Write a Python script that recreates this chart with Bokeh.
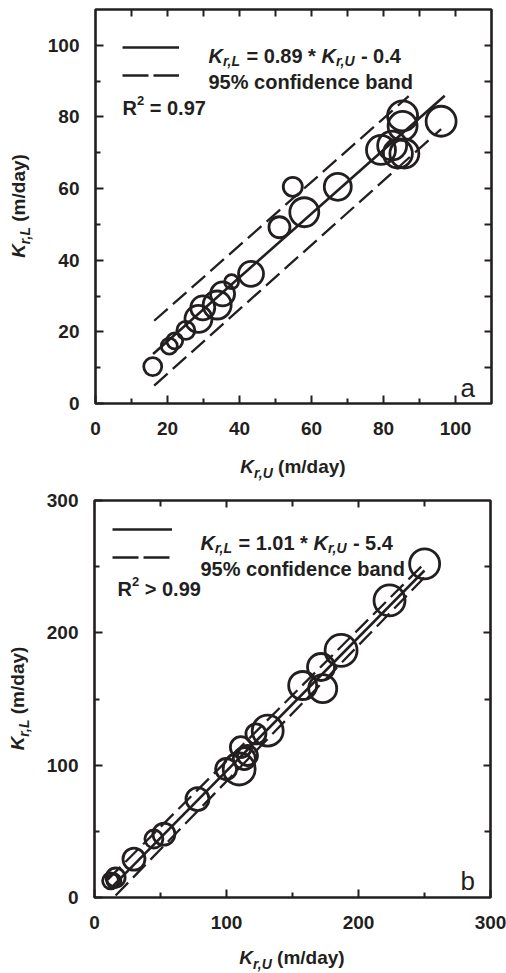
import numpy as np
from bokeh.plotting import figure
from bokeh.models import FixedTicker, LinearAxis, Label, Legend, LegendItem, Range1d, Div
from bokeh.layouts import column, row
from bokeh.embed import file_html
from bokeh.resources import INLINE
from bokeh.core.properties import value

# ---------------- data: panel a ----------------
a_ku = [15.9, 20.5, 22.0, 25.1, 28.6, 29.8, 33.8, 35.3, 37.8, 43.2, 51.1,
        54.8, 58.0, 67.3, 79.3, 82.4, 84.0, 85.8, 85.3, 85.3, 96.0]
a_kl = [10.3, 16.0, 17.5, 20.4, 23.6, 26.7, 27.5, 30.6, 34.0, 36.2, 49.2,
        60.5, 53.4, 60.5, 70.8, 72.0, 69.8, 69.8, 77.5, 80.3, 78.8]
a_size = [18, 16, 16, 18, 27, 24, 28, 24, 14, 25, 21,
          19, 29, 27, 29, 29, 29, 29, 29, 30, 30]
a_slope, a_intercept = 0.89, -0.4
a_fit_x = [16.0, 97.0]
a_upper_x = [16.3, 87.0]
a_upper_y = [23.1, 85.8]
a_lower_x = [16.3, 96.0]
a_lower_y = [5.0, 76.6]
a_ticks = [0, 20, 40, 60, 80, 100]
a_minor = [10, 30, 50, 70, 90]
a_side_ticks = [10, 20, 30, 40, 50, 60, 70, 80, 90, 100]
a_eq = ("0.89", "0.4")
a_r2 = "= 0.97"

# ---------------- data: panel b ----------------
b_ku = [12.2, 14.7, 16.0, 29.9, 45.0, 52.6, 78.0, 99.7, 109.6, 113.5, 110.9,
        115.9, 122.3, 131.2, 157.7, 172.9, 171.6, 186.8, 223.5, 250.1]
b_kl = [12.6, 12.6, 15.1, 29.0, 44.2, 47.9, 74.4, 97.1, 97.1, 105.0, 113.6,
        107.3, 123.6, 126.1, 160.2, 157.8, 174.2, 186.7, 224.5, 252.1]
b_size = [16, 14, 19, 22, 18, 22, 23, 21, 32, 22, 21,
          20, 20, 31, 28, 28, 27, 32, 31, 30]
b_slope, b_intercept = 1.01, -5.4
b_fit_x = [12.0, 250.0]
b_upper_x = [10.0, 248.0]
b_upper_y = [13.5, 250.5]
b_lower_x = [16.0, 252.0]
b_lower_y = [1.5, 244.0]
b_ticks = [0, 100, 200, 300]
b_minor = [50, 150, 250]
b_side_ticks = [100, 200]
b_eq = ("1.01", "5.4")
b_r2 = "> 0.99"

INK = "#231f20"
FONT = "Liberation Sans"

# Arial/Liberation Sans Bold advance widths (per 1000 em)
W = {' ': 278, '(': 333, ')': 333, '*': 389, ',': 278, '-': 333, '.': 278,
     '/': 278, '=': 584, '>': 584, '%': 889, 'K': 722, 'L': 611, 'R': 722,
     'U': 722, 'a': 556, 'd': 611, 'm': 889, 'r': 389, 'y': 556}
for _d in "0123456789":
    W[_d] = 556


def tw(s, size):
    return sum(W.get(c, 556) for c in s) * size / 1000.0


def rich(p, pieces, x0, y0):
    """Draw a run of differently styled text pieces from x0, y0 (frame-relative screen px)."""
    cur = 0.0
    for text, size, style, shift in pieces:
        lead = len(text) - len(text.lstrip(' '))
        off = cur + lead * W[' '] * size / 1000.0
        p.add_layout(Label(x=x0 + off, y=y0 + shift, x_units="screen", y_units="screen",
                           text=text.strip(), text_font=FONT, text_font_size=f"{size}px",
                           text_font_style=style, text_color=INK,
                           text_align="left", text_baseline="alphabetic"))
        cur += tw(text, size)


def style_axis(ax, ticks, minor, tin, minin, standoff, labels=True):
    ax.ticker = FixedTicker(ticks=ticks, minor_ticks=minor)
    ax.major_tick_in = tin
    ax.major_tick_out = 0
    ax.minor_tick_in = minin
    ax.minor_tick_out = 0
    ax.major_tick_line_width = 2
    ax.minor_tick_line_width = 2
    ax.major_tick_line_color = INK
    ax.minor_tick_line_color = INK
    ax.axis_line_color = None
    ax.major_label_standoff = standoff
    ax.major_label_text_font = FONT
    ax.major_label_text_font_style = "bold"
    if labels:
        ax.major_label_text_color = INK
        ax.major_label_text_font_size = "19px"
    else:
        ax.major_label_text_color = None
        ax.major_label_text_font_size = "1px"


LABEL_CSS = f"font-family:'{FONT}';font-weight:bold;font-size:19px;line-height:19px;color:{INK};white-space:nowrap;"
SUB_CSS = "font-size:14px;vertical-align:-5px;line-height:0;"


def axis_title(sub):
    return (f"<i>K</i><sub style=\"{SUB_CSS}\"><i>{sub}</i></sub> (m/day)")


def xlabel_div(width, height, left, fw, top):
    html = (f"<div style=\"position:relative;width:{width}px;height:{height}px;\">"
            f"<div style=\"position:absolute;left:{left}px;width:{fw}px;top:{top}px;"
            f"text-align:center;{LABEL_CSS}\">{axis_title('r,U')}</div></div>")
    return Div(text=html, width=width, height=height, margin=(0, 0, 0, 0))


def ylabel_div(width, height, left, bottom, fh):
    html = (f"<div style=\"position:relative;width:{width}px;height:{height}px;\">"
            f"<div style=\"position:absolute;left:{left}px;top:{bottom}px;width:{fh}px;height:19px;"
            f"text-align:center;transform-origin:0 0;transform:rotate(-90deg);{LABEL_CSS}\">"
            f"{axis_title('r,L')}</div></div>")
    return Div(text=html, width=width, height=height, margin=(0, 0, 0, 0))


def panel(ku, kl, size, slope, intercept, fit_x, ux, uy, lx, ly, lim,
          ticks, minor, side_ticks, side_minor, eq, r2, letter,
          width, height, bl, br, bt, bb, leg_margin, leg_w, eq_dx, eq_dy, r2_dx, r2_dy,
          let_dx, let_dy):
    p = figure(width=width, height=height, x_range=Range1d(0, lim), y_range=Range1d(0, lim),
               output_backend="svg", toolbar_location=None,
               min_border_left=bl, min_border_right=br, min_border_top=bt, min_border_bottom=bb,
               margin=(0, 0, 0, 0))
    fh = height - bt - bb
    p.xgrid.visible = False
    p.ygrid.visible = False
    p.outline_line_color = INK
    p.outline_line_width = 2.6
    p.background_fill_color = "white"
    p.border_fill_color = "white"

    style_axis(p.xaxis[0], ticks, minor, 8, 5, 18)
    style_axis(p.yaxis[0], ticks, minor, 8, 5, 16)
    right = LinearAxis()
    top = LinearAxis()
    style_axis(right, side_ticks, side_minor, 7, 6, 0, labels=False)
    style_axis(top, side_ticks, side_minor, 7, 6, 0, labels=False)
    p.add_layout(right, "right")
    p.add_layout(top, "above")

    fx = np.array(fit_x)
    fit_r = p.line(fx, slope * fx + intercept, line_color=INK, line_width=2.6)
    p.line(ux, uy, line_color=INK, line_width=2.3, line_dash="18 7")
    p.line(lx, ly, line_color=INK, line_width=2.3, line_dash="18 7")
    p.scatter(ku, kl, size=size, marker="circle", fill_color=None,
              line_color=INK, line_width=2.8)

    # legend-only dashed sample (no visible data)
    dash_r = p.line([np.nan, np.nan], [np.nan, np.nan], line_color=INK,
                    line_width=2.3, line_dash="26 5")
    leg = Legend(items=[LegendItem(label=value(""), renderers=[fit_r]),
                        LegendItem(label=value(""), renderers=[dash_r])],
                 location="top_left", margin=leg_margin, padding=0,
                 glyph_width=leg_w, glyph_height=22, label_height=22,
                 label_width=0, label_standoff=0, spacing=6,
                 label_text_font_size="10px",
                 background_fill_alpha=0, border_line_color=None)
    p.add_layout(leg)

    eq_pieces = [("K", 20, "bold italic", 0), ("r,L", 14, "bold italic", -5),
                 (" = " + eq[0] + " *", 20, "bold", 0), (" K", 20, "bold italic", 0),
                 ("r,U", 14, "bold italic", -5), (" - " + eq[1], 20, "bold", 0)]
    rich(p, eq_pieces, eq_dx, fh - eq_dy)
    rich(p, [("95% confidence band", 20, "bold", 0)], eq_dx, fh - eq_dy - 26.7)
    rich(p, [("R", 20, "bold", 0), ("2", 13, "bold", 7), (" " + r2, 20, "bold", 0)],
         r2_dx, fh - r2_dy)

    p.add_layout(Label(x=let_dx, y=fh - let_dy, x_units="screen", y_units="screen",
                       text=letter, text_font=FONT, text_font_size="26px",
                       text_color=INK, text_baseline="alphabetic"))
    return p


YW = 36          # width of the y-title strip
FW = 396         # frame width

# panel a: frame page-left 95, top 9, height 394
pa = panel(a_ku, a_kl, a_size, a_slope, a_intercept, a_fit_x,
           a_upper_x, a_upper_y, a_lower_x, a_lower_y, 110,
           a_ticks, a_minor, a_side_ticks, [], a_eq, a_r2, "a",
           width=506 - YW, height=445, bl=95 - YW, br=506 - 95 - FW, bt=9, bb=42,
           leg_margin=27, leg_w=57, eq_dx=113, eq_dy=46, r2_dx=27, r2_dy=98,
           let_dx=365, let_dy=378)
ya = ylabel_div(YW, 445, 9, 403, 394)
xa = xlabel_div(506, 43, 95, FW, 12)

# panel b: frame page-left 94, top 500, height 397
pb = panel(b_ku, b_kl, b_size, b_slope, b_intercept, b_fit_x,
           b_upper_x, b_upper_y, b_lower_x, b_lower_y, 300,
           b_ticks, b_minor, b_side_ticks, b_minor, b_eq, b_r2, "b",
           width=506 - YW, height=451, bl=94 - YW, br=506 - 94 - FW, bt=12, bb=42,
           leg_margin=18, leg_w=60, eq_dx=106, eq_dy=42, r2_dx=23, r2_dy=88,
           let_dx=366, let_dy=380)
yb = ylabel_div(YW, 451, 8, 409, 397)
xb = xlabel_div(506, 34, 94, FW, 9)

layout = column(row(ya, pa, spacing=0), xa, row(yb, pb, spacing=0), xb, spacing=0)
open("out.html", "w").write(file_html(layout, INLINE))
